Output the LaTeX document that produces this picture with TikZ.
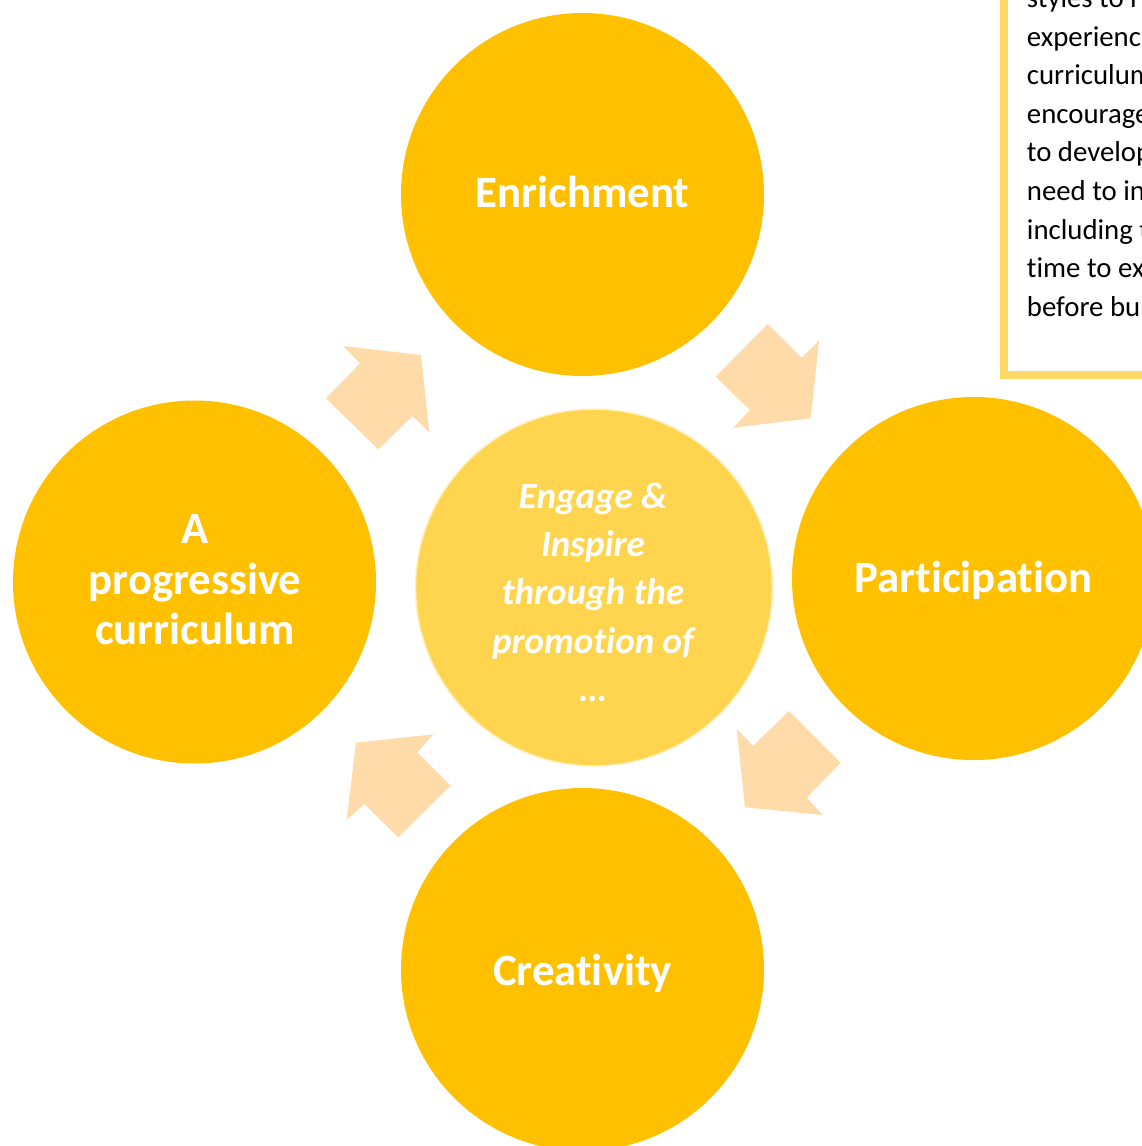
\documentclass[tikz,border=0pt]{standalone}
\usepackage{fontspec}
\setmainfont{Carlito}[Ligatures={NoCommon}]
\definecolor{gold}{HTML}{FFC000}
\definecolor{centerc}{HTML}{FFD54F}
\definecolor{arrowc}{HTML}{FFDBA9}
\definecolor{boxc}{HTML}{FFD966}
\begin{document}
\begin{tikzpicture}[x=1pt,y=-1pt,
  bigc/.style={circle,fill=gold,minimum size=363pt,inner sep=0pt},
  midc/.style={circle,fill=centerc,draw=centerc!35!white,line width=1.5pt,minimum size=357pt,inner sep=0pt},
  lbl/.style={text=white,font=\bfseries\fontsize{44.8}{50}\selectfont,anchor=base,inner sep=0pt},
  midtxt/.style={text=white,font=\bfseries\itshape\fontsize{37}{48}\selectfont,anchor=base,inner sep=0pt},
  boxtxt/.style={text=black,font=\fontsize{28.8}{38.6}\selectfont,anchor=base west,inner sep=0pt},
  blockarrow/.style={fill=arrowc}]
\useasboundingbox (0,0) rectangle (1142,1146);
\fill[white] (0,0) rectangle (1142,1146);
\clip (0,0) rectangle (1142,1146);
% block arrows
\fill[blockarrow] (343.3,346) -- (421,355) -- (429.3,432.3) -- (412.7,416) -- (378.3,449.3) -- (326,398.3) -- (360,363.3) -- cycle;
\fill[blockarrow] (767.7,324) -- (801.7,357.7) -- (819,340.7) -- (810.7,418.3) -- (733.3,427.7) -- (750,410) -- (715.7,376.7) -- cycle;
\fill[blockarrow] (789,711) -- (840.7,762.7) -- (806.7,797.7) -- (822.7,815) -- (745,807.3) -- (736.7,729) -- (753.3,745.7) -- cycle;
\fill[blockarrow] (356,742.7) -- (433.3,734.3) -- (417.3,752.3) -- (450.7,785.7) -- (398.3,837.3) -- (364.3,804) -- (346.7,820) -- cycle;
% circles
\node[bigc] (enr) at (582.5,194.5) {};
\node[bigc] (par) at (973.5,578.5) {};
\node[bigc] (cre) at (582.5,969.5) {};
\node[bigc] (pro) at (194.5,582) {};
\node[midc] (mid) at (594,587.5) {};
% labels
\node[lbl] (lenr) at (582.5,207) {Enrichment};
\node[lbl] (lpar) at (973.5,592.7) {Participation};
\node[lbl] (lcre) at (582.5,985) {Creativity};
\node[lbl] (lpro1) at (195,543.3) {A};
\node[lbl] (lpro2) at (195,594) {progressive};
\node[lbl] (lpro3) at (195,644.3) {curriculum};
% centre text
\node[midtxt] (m1) at (593,508.5) {Engage \&};
\node[midtxt] (m2) at (593,556.7) {Inspire};
\node[midtxt] (m3) at (593,604.9) {through the};
\node[midtxt] (m4) at (593,653.1) {promotion of};
\node[midtxt] (m5) at (593,701.3) {…};
% text box
\draw[boxc,line width=8pt,line join=miter] (1003.5,-50) -- (1003.5,374.5) -- (1250,374.5);
\foreach \t [count=\i from 0] in {styles to r,experience,curriculum,encourage,to develop,need to in,including t,time to ex,before bu}
  \node[boxtxt] (bt\i) at (1026.7,7.5+38.6*\i) {\t};
\end{tikzpicture}
\end{document}
